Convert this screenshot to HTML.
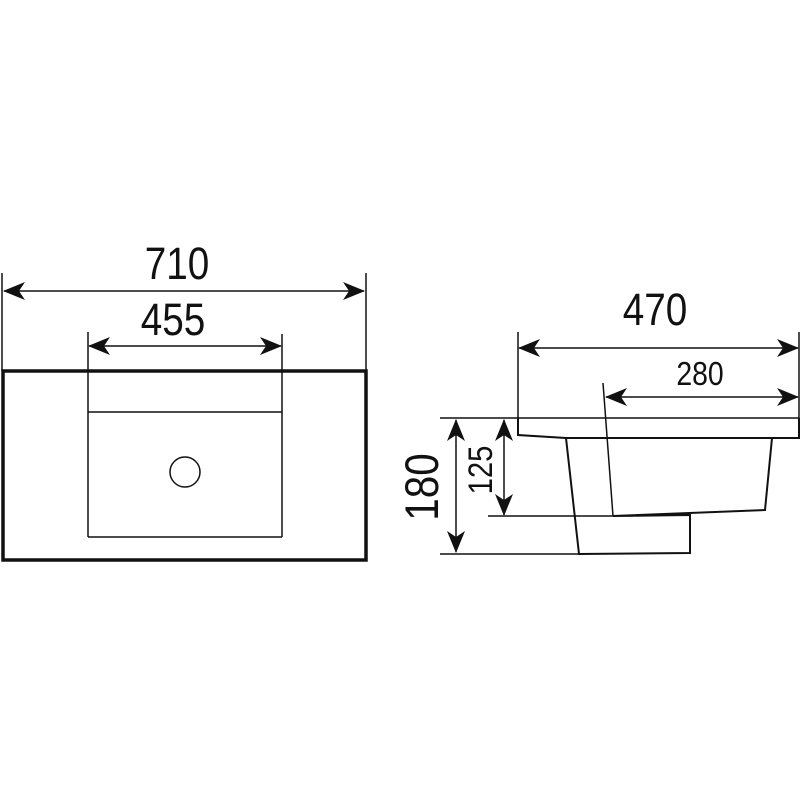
<!DOCTYPE html>
<html><head><meta charset="utf-8"><style>html,body{margin:0;padding:0;background:#fff}svg{display:block}</style></head><body>
<svg width="800" height="800" viewBox="0 0 800 800" xmlns="http://www.w3.org/2000/svg">
<defs>
<marker id="a" viewBox="0 0 22 18" refX="21" refY="9" markerWidth="22" markerHeight="18" markerUnits="userSpaceOnUse" orient="auto-start-reverse">
<path d="M0,0 L22,9 L0,18 L6,9 Z" fill="#111"/>
</marker>
</defs>
<g font-family="Liberation Sans, sans-serif" fill="#111" text-anchor="middle">
<text font-size="45" transform="translate(177,279) scale(0.86,1)">710</text>
<text font-size="45" transform="translate(173,335) scale(0.86,1)">455</text>
<text font-size="45" transform="translate(655,325) scale(0.86,1)">470</text>
<text font-size="33" transform="translate(700,385) scale(0.86,1)">280</text>
<text font-size="47" transform="translate(438,487) rotate(-90) scale(0.86,1)">180</text>
<text font-size="34" transform="translate(492,470) rotate(-90) scale(0.86,1)">125</text>
</g>
<g stroke="#111" fill="none">
<rect x="3" y="371" width="363" height="189" stroke-width="3.5"/>
<line x1="2" y1="273" x2="2" y2="371" stroke-width="1.5"/>
<line x1="366" y1="273" x2="366" y2="371" stroke-width="1.5"/>
<line x1="4" y1="291" x2="364" y2="291" stroke-width="1.5" marker-start="url(#a)" marker-end="url(#a)"/>
<line x1="88" y1="332" x2="88" y2="537" stroke-width="1.5"/>
<line x1="282" y1="334" x2="282" y2="537" stroke-width="1.5"/>
<line x1="89" y1="346" x2="281" y2="346" stroke-width="1.5" marker-start="url(#a)" marker-end="url(#a)"/>
<line x1="88" y1="412" x2="282" y2="412" stroke-width="1.5"/>
<line x1="88" y1="537" x2="282" y2="537" stroke-width="1.5"/>
<circle cx="185" cy="472" r="15" stroke-width="1.5"/>

<line x1="518" y1="332" x2="518" y2="418" stroke-width="1.5"/>
<line x1="799" y1="332" x2="799" y2="418" stroke-width="1.5"/>
<line x1="519" y1="348" x2="798" y2="348" stroke-width="1.5" marker-start="url(#a)" marker-end="url(#a)"/>
<line x1="603" y1="383" x2="613" y2="516" stroke-width="1.5"/>
<line x1="606" y1="397" x2="798" y2="397" stroke-width="1.5" marker-start="url(#a)" marker-end="url(#a)"/>
<line x1="440" y1="418" x2="799" y2="418" stroke-width="1.5"/>
<path d="M518,418 L518,435 L566,438 L799,438 L799,418" stroke-width="2"/>
<path d="M566,438 L579,554 L690,553 L690,515 L613,516 L765,510 L772,438" stroke-width="2"/>
<line x1="488" y1="516" x2="613" y2="516" stroke-width="1.5"/>
<line x1="440" y1="554" x2="580" y2="554" stroke-width="1.5"/>
<line x1="456" y1="420" x2="456" y2="552" stroke-width="1.5" marker-start="url(#a)" marker-end="url(#a)"/>
<line x1="504" y1="420" x2="504" y2="515" stroke-width="1.5" marker-start="url(#a)" marker-end="url(#a)"/>
</g>
</svg>
</body></html>
